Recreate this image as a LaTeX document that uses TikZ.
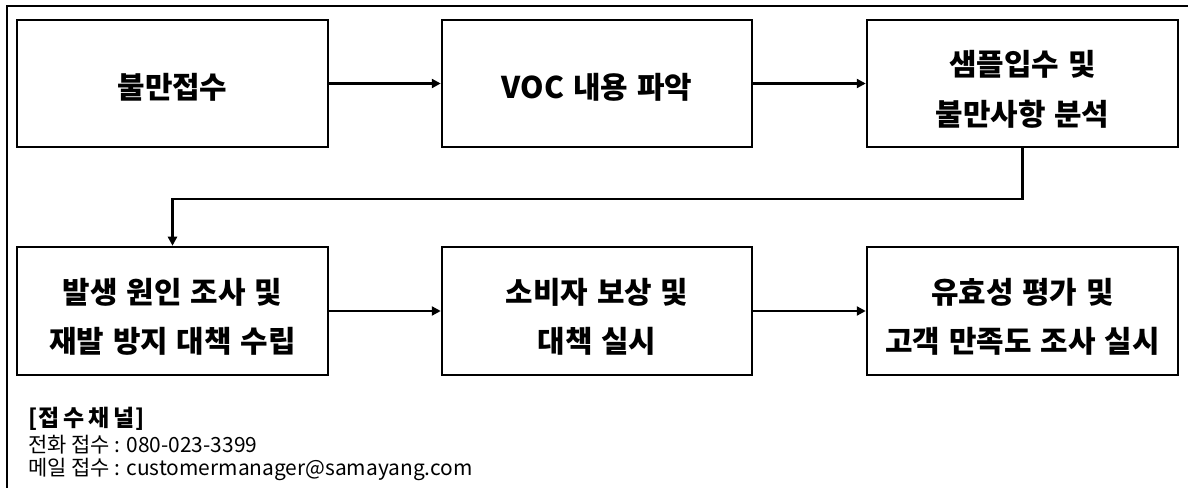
\documentclass[tikz,border=0pt]{standalone}
\usepackage{fontspec}
\setmainfont{Noto Sans CJK KR}
\usetikzlibrary{arrows.meta}
\newcommand{\boxfont}{\fontsize{30}{50}\selectfont\bfseries\spaceskip=0.3em\relax}
\newcommand{\ls}{\kern4bp}
\newcommand{\twolines}[2]{\begin{tabular}{@{}c@{}}#1\\#2\end{tabular}}
\begin{document}
\begin{tikzpicture}[x=1bp,y=-1bp,
  stepbox/.style={draw, line width=2.5bp, inner sep=0pt, minimum width=311bp,
    minimum height=127bp},
  onetext/.style={inner sep=0pt, font=\boxfont, yshift=-4bp},
  twotext/.style={inner sep=0pt, font=\boxfont, yshift=-7bp},
  flow/.style={line width=2.5bp, -{Triangle[length=9bp,width=9bp]}},
  frame/.style={line width=1.5bp},
  note/.style={anchor=west, inner sep=0pt, font=\fontsize{21}{22}\selectfont}]
\useasboundingbox (0,0) rectangle (1188,488);
\draw[frame] (7,488) -- (7,6) -- (1188,6);
\node[stepbox] (b1) at (172.5,83.5) {};
\node[stepbox, minimum width=310bp] (b2) at (597,83.5) {};
\node[stepbox] (b3) at (1022.5,83.5) {};
\node[stepbox, minimum height=128bp] (b4) at (172.5,311) {};
\node[stepbox, minimum width=310bp, minimum height=128bp] (b5) at (597,311) {};
\node[stepbox, minimum height=128bp] (b6) at (1022.5,311) {};
\node[onetext] (b1t) at (b1) {불만접수};
\node[onetext] (b2t) at (b2) {VOC 내용 파악};
\node[twotext] (b3t) at (b3) {\twolines{샘플입수 및}{불만사항 분석}};
\node[twotext] (b4t) at (b4) {\twolines{발생 원인 조사 및}{재발 방지 대책 수립}};
\node[twotext] (b5t) at (b5) {\twolines{소비자 보상 및}{대책 실시}};
\node[twotext] (b6t) at (b6) {\twolines{유효성 평가 및}{고객 만족도 조사 실시}};
\draw[flow] (b1) -- (b2);
\draw[flow] (b2) -- (b3);
\draw[flow] (b3.south) -- ++(0,51) -| (b4.north);
\draw[flow] (b4) -- (b5);
\draw[flow] (b5) -- (b6);
\node[note, font=\fontsize{23}{24}\selectfont\bfseries] (t1) at (28,419) {[\kern1bp 접\ls 수\ls 채\ls 널\kern1bp]};
\node[note] (t2) at (28,445) {전화 접수 : 080-023-3399};
\node[note] (t3) at (28,469) {메일 접수 : customermanager@samayang.com};
\end{tikzpicture}
\end{document}
